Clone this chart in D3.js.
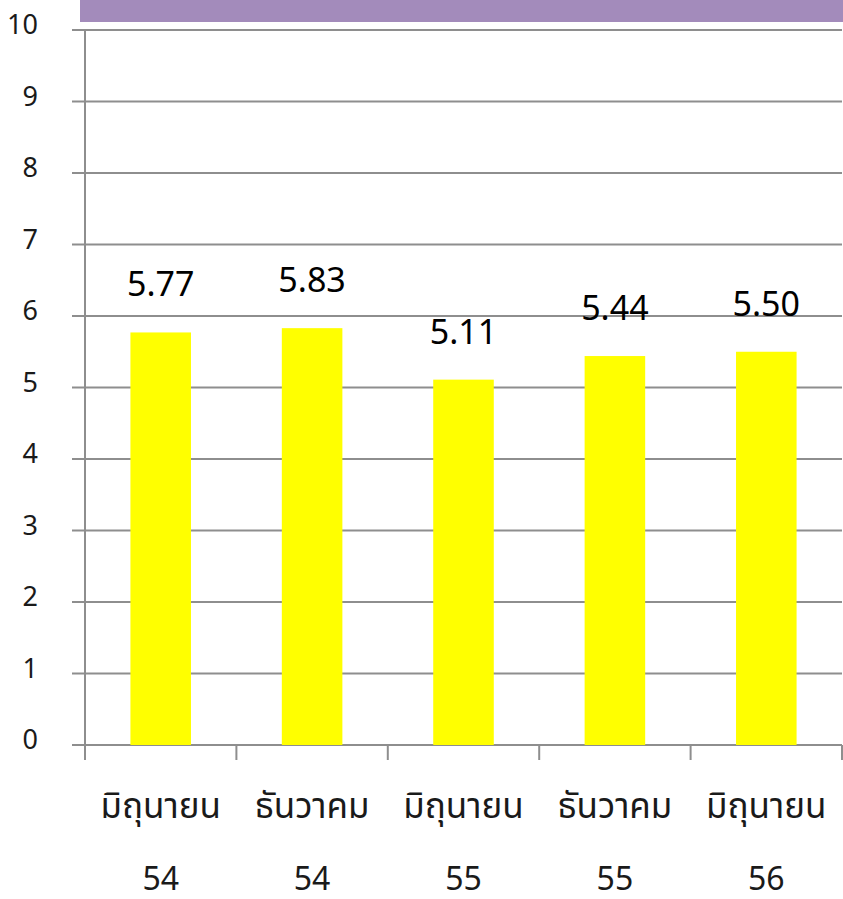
<!DOCTYPE html>
<html><head><meta charset="utf-8">
<script src="https://cdn.jsdelivr.net/npm/d3@7"></script>
<style>body{margin:0;background:#fff}svg{display:block}</style>
</head><body>
<script>
const categories = ["มิถุนายน|54","ธันวาคม|54","มิถุนายน|55","ธันวาคม|55","มิถุนายน|56"];
const values = [5.77, 5.83, 5.11, 5.44, 5.50];
const valueLabels = ["5.77","5.83","5.11","5.44","5.50"];
const yTicks = [0,1,2,3,4,5,6,7,8,9,10];

const W = 843, H = 899;
const svg = d3.select("body").append("svg").attr("width", W).attr("height", H);
const font = "'Noto Sans', 'Noto Sans Thai', 'Tahoma', sans-serif";

svg.append("rect").attr("x", 80).attr("y", 0).attr("width", 763).attr("height", 22).attr("fill", "#A38BBB");

const x = d3.scaleBand().domain(categories).range([85, 842]).padding(0);
const y = d3.scaleLinear().domain([0, 10]).range([745, 30]);
const gridColor = "#8e8e8e";

// gridlines
svg.append("g").selectAll("line").data(yTicks).join("line")
  .attr("x1", 72).attr("x2", 842)
  .attr("y1", d => y(d)).attr("y2", d => y(d))
  .attr("stroke", gridColor).attr("stroke-width", 2);

// y axis line
svg.append("line").attr("x1", 85).attr("x2", 85).attr("y1", y(10)).attr("y2", 760)
  .attr("stroke", gridColor).attr("stroke-width", 2);

// x category ticks
const tickXs = categories.map(c => x(c) + x.bandwidth()).concat([x(categories[0])]);
svg.append("g").selectAll("line").data(tickXs).join("line")
  .attr("x1", d => d).attr("x2", d => d).attr("y1", y(0)).attr("y2", 760)
  .attr("stroke", gridColor).attr("stroke-width", 2);

// y tick labels
svg.append("g").selectAll("text").data(yTicks).join("text")
  .attr("x", 38).attr("y", d => y(d) - 5).attr("dy", "0.35em")
  .attr("text-anchor", "end").attr("font-family", font).attr("font-size", 27)
  .attr("fill", "#1a1a1a").text(d => d);

// bars
const bw = x.bandwidth() * 0.4;
svg.append("g").selectAll("rect").data(values).join("rect")
  .attr("x", (d, i) => x(categories[i]) + x.bandwidth() / 2 - bw / 2)
  .attr("width", bw)
  .attr("y", d => y(d)).attr("height", d => y(0) - y(d))
  .attr("fill", "#FFFF00");

// value labels
svg.append("g").selectAll("text").data(values).join("text")
  .attr("x", (d, i) => x(categories[i]) + x.bandwidth() / 2)
  .attr("y", d => y(d) - 36)
  .attr("text-anchor", "middle").attr("font-family", font).attr("font-size", 34)
  .attr("fill", "#000").text((d, i) => valueLabels[i]);

// category labels
const cl = svg.append("g").selectAll("g").data(categories).join("g");
cl.append("text")
  .attr("x", d => x(d) + x.bandwidth() / 2).attr("y", 818)
  .attr("text-anchor", "middle").attr("font-family", font).attr("font-size", 35)
  .attr("fill", "#1a1a1a").text(d => d.split("|")[0]);
cl.append("text")
  .attr("x", d => x(d) + x.bandwidth() / 2).attr("y", 890)
  .attr("text-anchor", "middle").attr("font-family", font).attr("font-size", 32)
  .attr("fill", "#1a1a1a").text(d => d.split("|")[1]);
</script>
</body></html>
